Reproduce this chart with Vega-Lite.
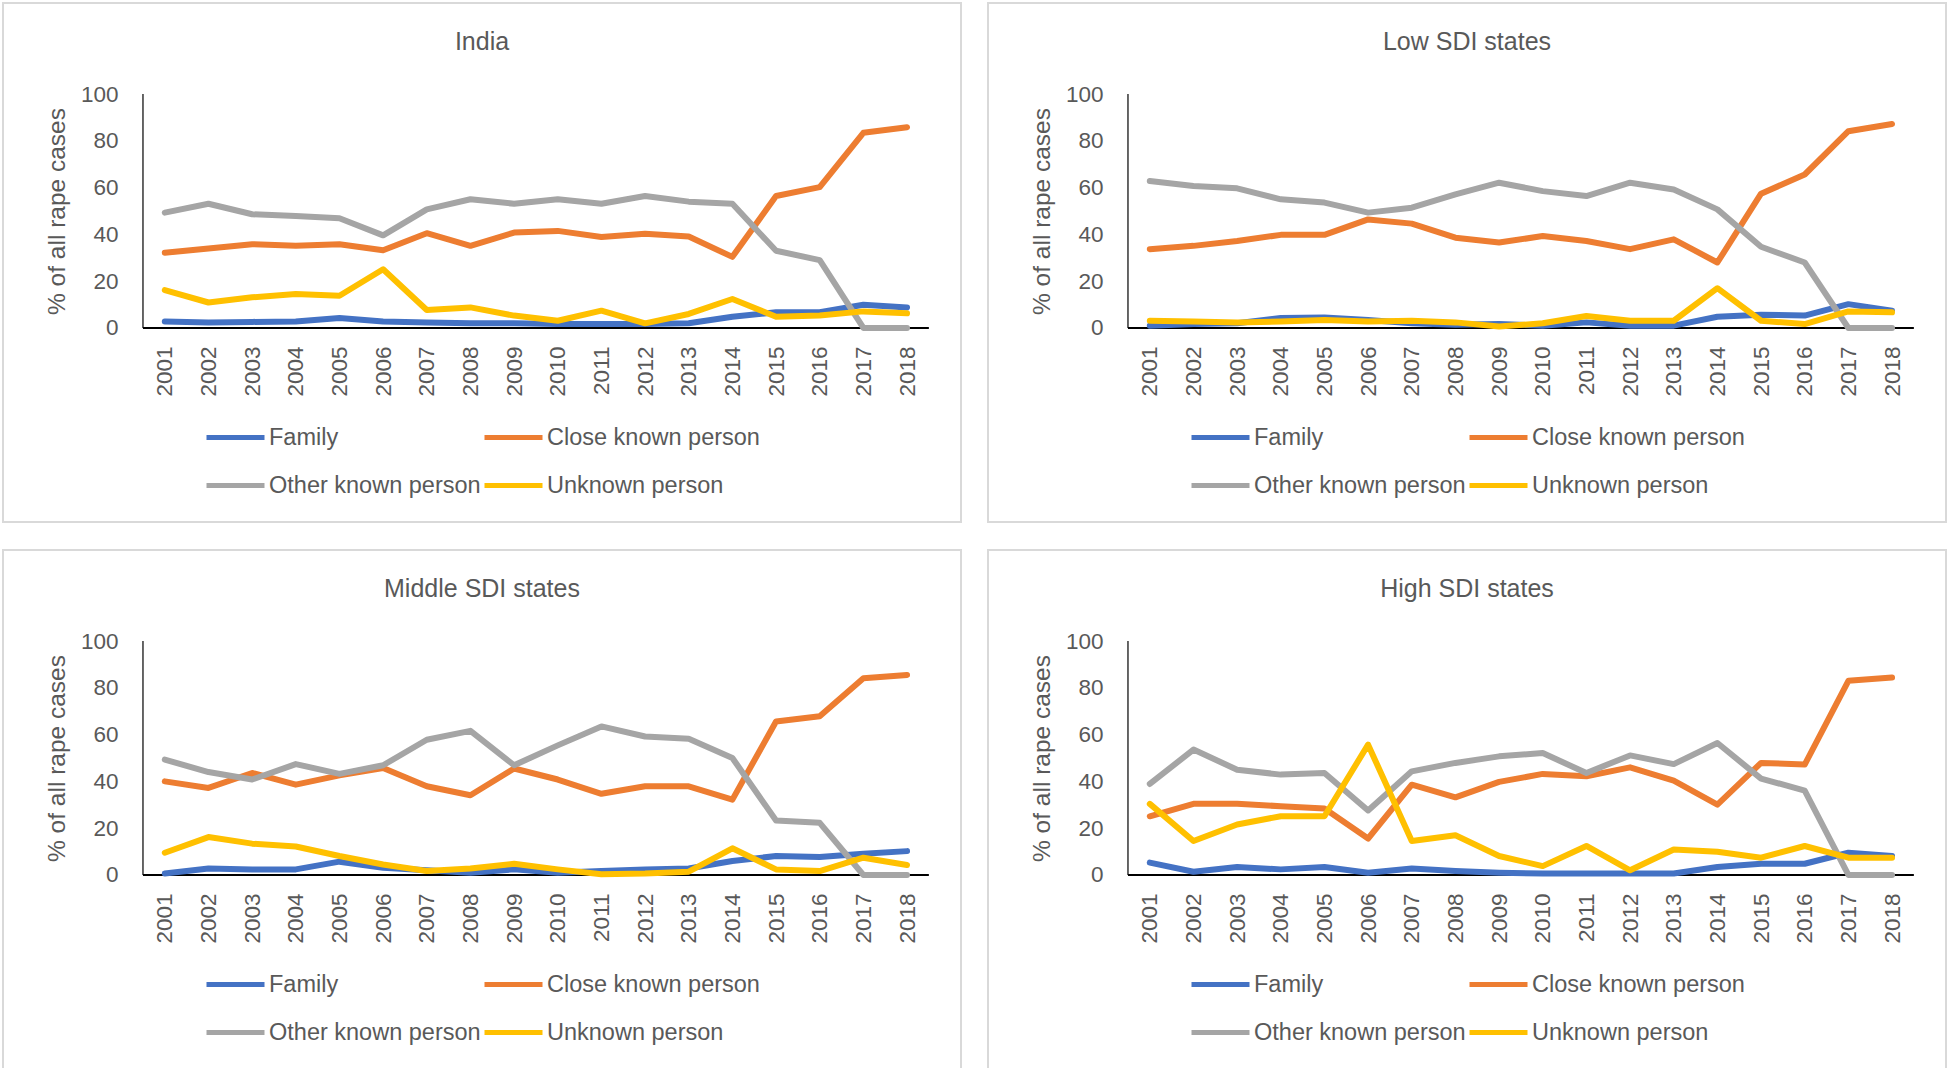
{
  "$schema": "https://vega.github.io/schema/vega-lite/v6.json",
  "background": "white",
  "padding": {"left": 2, "top": 2, "right": 0, "bottom": 0},
  "datasets": {
    "india": [
      {"year": 2001, "Family": 2.8, "Close known person": 32.2, "Other known person": 49.3, "Unknown person": 16.2},
      {"year": 2002, "Family": 2.4, "Close known person": 34.0, "Other known person": 53.1, "Unknown person": 10.9},
      {"year": 2003, "Family": 2.6, "Close known person": 35.8, "Other known person": 48.6, "Unknown person": 13.1},
      {"year": 2004, "Family": 2.8, "Close known person": 35.1, "Other known person": 47.9, "Unknown person": 14.5},
      {"year": 2005, "Family": 4.3, "Close known person": 35.8, "Other known person": 46.9, "Unknown person": 13.8},
      {"year": 2006, "Family": 2.8, "Close known person": 33.2, "Other known person": 39.6, "Unknown person": 25.1},
      {"year": 2007, "Family": 2.4, "Close known person": 40.5, "Other known person": 50.7, "Unknown person": 7.7},
      {"year": 2008, "Family": 2.0, "Close known person": 35.1, "Other known person": 55.0, "Unknown person": 8.8},
      {"year": 2009, "Family": 2.0, "Close known person": 40.8, "Other known person": 53.1, "Unknown person": 5.3},
      {"year": 2010, "Family": 1.7, "Close known person": 41.5, "Other known person": 55.0, "Unknown person": 3.1},
      {"year": 2011, "Family": 1.7, "Close known person": 38.9, "Other known person": 53.1, "Unknown person": 7.4},
      {"year": 2012, "Family": 1.7, "Close known person": 40.3, "Other known person": 56.4, "Unknown person": 2.0},
      {"year": 2013, "Family": 2.0, "Close known person": 39.1, "Other known person": 54.0, "Unknown person": 6.0},
      {"year": 2014, "Family": 4.8, "Close known person": 30.4, "Other known person": 53.1, "Unknown person": 12.4},
      {"year": 2015, "Family": 6.7, "Close known person": 56.4, "Other known person": 33.0, "Unknown person": 4.8},
      {"year": 2016, "Family": 6.7, "Close known person": 60.2, "Other known person": 29.0, "Unknown person": 5.3},
      {"year": 2017, "Family": 9.9, "Close known person": 83.4, "Other known person": 0, "Unknown person": 7.1},
      {"year": 2018, "Family": 8.8, "Close known person": 85.8, "Other known person": 0, "Unknown person": 6.3}
    ],
    "low": [
      {"year": 2001, "Family": 1.0, "Close known person": 33.7, "Other known person": 62.8, "Unknown person": 3.1},
      {"year": 2002, "Family": 1.7, "Close known person": 35.1, "Other known person": 60.7, "Unknown person": 2.8},
      {"year": 2003, "Family": 2.0, "Close known person": 37.2, "Other known person": 59.7, "Unknown person": 2.3},
      {"year": 2004, "Family": 4.3, "Close known person": 39.8, "Other known person": 55.0, "Unknown person": 2.8},
      {"year": 2005, "Family": 4.5, "Close known person": 39.8, "Other known person": 53.6, "Unknown person": 3.4},
      {"year": 2006, "Family": 3.4, "Close known person": 46.4, "Other known person": 49.3, "Unknown person": 2.8},
      {"year": 2007, "Family": 2.0, "Close known person": 44.6, "Other known person": 51.4, "Unknown person": 3.1},
      {"year": 2008, "Family": 1.4, "Close known person": 38.6, "Other known person": 57.1, "Unknown person": 2.4},
      {"year": 2009, "Family": 1.7, "Close known person": 36.5, "Other known person": 62.1, "Unknown person": 0.6},
      {"year": 2010, "Family": 1.0, "Close known person": 39.3, "Other known person": 58.5, "Unknown person": 2.0},
      {"year": 2011, "Family": 2.4, "Close known person": 37.2, "Other known person": 56.4, "Unknown person": 5.1},
      {"year": 2012, "Family": 1.0, "Close known person": 33.7, "Other known person": 62.1, "Unknown person": 3.1},
      {"year": 2013, "Family": 1.0, "Close known person": 37.9, "Other known person": 59.2, "Unknown person": 3.1},
      {"year": 2014, "Family": 4.8, "Close known person": 28.0, "Other known person": 50.7, "Unknown person": 17.0},
      {"year": 2015, "Family": 5.7, "Close known person": 57.4, "Other known person": 34.7, "Unknown person": 3.1},
      {"year": 2016, "Family": 5.3, "Close known person": 65.6, "Other known person": 28.0, "Unknown person": 1.7},
      {"year": 2017, "Family": 10.2, "Close known person": 84.1, "Other known person": 0, "Unknown person": 7.1},
      {"year": 2018, "Family": 7.4, "Close known person": 87.2, "Other known person": 0, "Unknown person": 6.7}
    ],
    "middle": [
      {"year": 2001, "Family": 0.6, "Close known person": 40.0, "Other known person": 49.3, "Unknown person": 9.5},
      {"year": 2002, "Family": 2.8, "Close known person": 37.2, "Other known person": 44.0, "Unknown person": 16.2},
      {"year": 2003, "Family": 2.4, "Close known person": 43.6, "Other known person": 40.8, "Unknown person": 13.4},
      {"year": 2004, "Family": 2.4, "Close known person": 38.6, "Other known person": 47.4, "Unknown person": 12.2},
      {"year": 2005, "Family": 5.7, "Close known person": 42.6, "Other known person": 43.2, "Unknown person": 8.1},
      {"year": 2006, "Family": 3.1, "Close known person": 45.7, "Other known person": 46.9, "Unknown person": 4.5},
      {"year": 2007, "Family": 2.0, "Close known person": 37.9, "Other known person": 57.8, "Unknown person": 1.7},
      {"year": 2008, "Family": 1.0, "Close known person": 34.1, "Other known person": 61.6, "Unknown person": 2.8},
      {"year": 2009, "Family": 2.4, "Close known person": 45.5, "Other known person": 46.9, "Unknown person": 4.8},
      {"year": 2010, "Family": 1.0, "Close known person": 40.8, "Other known person": 55.4, "Unknown person": 2.4},
      {"year": 2011, "Family": 1.7, "Close known person": 34.7, "Other known person": 63.5, "Unknown person": 0.3},
      {"year": 2012, "Family": 2.4, "Close known person": 37.9, "Other known person": 59.2, "Unknown person": 0.6},
      {"year": 2013, "Family": 2.8, "Close known person": 37.9, "Other known person": 58.2, "Unknown person": 1.4},
      {"year": 2014, "Family": 6.0, "Close known person": 32.2, "Other known person": 50.0, "Unknown person": 11.4},
      {"year": 2015, "Family": 8.1, "Close known person": 65.6, "Other known person": 23.3, "Unknown person": 2.4},
      {"year": 2016, "Family": 7.7, "Close known person": 67.8, "Other known person": 22.3, "Unknown person": 1.7},
      {"year": 2017, "Family": 9.1, "Close known person": 84.1, "Other known person": 0, "Unknown person": 7.4},
      {"year": 2018, "Family": 10.2, "Close known person": 85.5, "Other known person": 0, "Unknown person": 4.3}
    ],
    "high": [
      {"year": 2001, "Family": 5.3, "Close known person": 25.1, "Other known person": 38.9, "Unknown person": 30.4},
      {"year": 2002, "Family": 1.4, "Close known person": 30.4, "Other known person": 53.6, "Unknown person": 14.5},
      {"year": 2003, "Family": 3.4, "Close known person": 30.4, "Other known person": 45.0, "Unknown person": 21.6},
      {"year": 2004, "Family": 2.4, "Close known person": 29.4, "Other known person": 42.9, "Unknown person": 25.1},
      {"year": 2005, "Family": 3.4, "Close known person": 28.4, "Other known person": 43.6, "Unknown person": 25.1},
      {"year": 2006, "Family": 1.0, "Close known person": 15.6, "Other known person": 27.6, "Unknown person": 55.7},
      {"year": 2007, "Family": 2.8, "Close known person": 38.6, "Other known person": 44.3, "Unknown person": 14.5},
      {"year": 2008, "Family": 1.7, "Close known person": 33.2, "Other known person": 47.9, "Unknown person": 17.0},
      {"year": 2009, "Family": 1.0, "Close known person": 39.8, "Other known person": 50.7, "Unknown person": 8.1},
      {"year": 2010, "Family": 0.6, "Close known person": 43.2, "Other known person": 52.1, "Unknown person": 3.8},
      {"year": 2011, "Family": 0.6, "Close known person": 42.2, "Other known person": 43.6, "Unknown person": 12.4},
      {"year": 2012, "Family": 0.6, "Close known person": 46.0, "Other known person": 51.1, "Unknown person": 2.0},
      {"year": 2013, "Family": 0.6, "Close known person": 40.3, "Other known person": 47.4, "Unknown person": 10.9},
      {"year": 2014, "Family": 3.4, "Close known person": 30.1, "Other known person": 56.4, "Unknown person": 9.9},
      {"year": 2015, "Family": 4.8, "Close known person": 47.9, "Other known person": 41.2, "Unknown person": 7.4},
      {"year": 2016, "Family": 4.8, "Close known person": 47.2, "Other known person": 36.1, "Unknown person": 12.4},
      {"year": 2017, "Family": 9.5, "Close known person": 83.0, "Other known person": 0, "Unknown person": 7.4},
      {"year": 2018, "Family": 8.1, "Close known person": 84.4, "Other known person": 0, "Unknown person": 7.4}
    ]
  },
  "spacing": 26,
  "resolve": {"scale": {"color": "independent", "x": "independent", "y": "independent"}, "legend": {"color": "independent"}},
  "vconcat": [
    {
      "spacing": 25,
      "resolve": {"scale": {"color": "independent", "x": "independent", "y": "independent"}, "legend": {"color": "independent"}},
      "hconcat": [
        {
          "width": 958, "height": 519,
          "title": {"text": "India"},
          "layer": [
            {"data": {"values": [{}]}, "mark": {"type": "rule", "color": "#000000", "strokeWidth": 2}, "encoding": {"x": {"datum": 2000.5, "type": "quantitative"}, "x2": {"datum": 2018.5}, "y": {"datum": 0, "type": "quantitative"}}},
            {"data": {"values": [{}]}, "mark": {"type": "rule", "color": "#000000", "strokeWidth": 1.2}, "encoding": {"x": {"datum": 2000.5, "type": "quantitative"}, "y": {"datum": 0, "type": "quantitative"}, "y2": {"datum": 100}}},
            {
              "data": {"name": "india"},
              "transform": [{"fold": ["Family", "Close known person", "Other known person", "Unknown person"], "as": ["relation", "pct"]}],
              "mark": {"type": "line", "strokeWidth": 6, "strokeCap": "round", "strokeJoin": "round"},
              "encoding": {
                "x": {"field": "year", "type": "quantitative", "scale": {"domain": [1997.294, 2019.236], "nice": false, "zero": false}, "axis": {"values": [2001, 2002, 2003, 2004, 2005, 2006, 2007, 2008, 2009, 2010, 2011, 2012, 2013, 2014, 2015, 2016, 2017, 2018], "format": "d", "title": null}},
                "y": {"field": "pct", "type": "quantitative", "scale": {"domain": [-82.91, 138.89], "nice": false, "zero": false}, "axis": {"values": [0, 20, 40, 60, 80, 100], "title": "% of all rape cases"}},
                "color": {"field": "relation", "type": "nominal", "scale": {"domain": ["Family", "Other known person", "Close known person", "Unknown person"], "range": ["#4472C4", "#A5A5A5", "#ED7D31", "#FFC000"]}, "legend": {"orient": "none", "legendX": 201, "legendY": 403, "columns": 2, "title": null, "symbolType": "stroke", "symbolSize": 3364, "symbolStrokeWidth": 5, "labelOffset": 2, "columnPadding": -7, "rowPadding": 5, "padding": 0}}
              }
            }
          ]
        },
        {
          "width": 958, "height": 519,
          "title": {"text": "Low SDI states"},
          "layer": [
            {"data": {"values": [{}]}, "mark": {"type": "rule", "color": "#000000", "strokeWidth": 2}, "encoding": {"x": {"datum": 2000.5, "type": "quantitative"}, "x2": {"datum": 2018.5}, "y": {"datum": 0, "type": "quantitative"}}},
            {"data": {"values": [{}]}, "mark": {"type": "rule", "color": "#000000", "strokeWidth": 1.2}, "encoding": {"x": {"datum": 2000.5, "type": "quantitative"}, "y": {"datum": 0, "type": "quantitative"}, "y2": {"datum": 100}}},
            {
              "data": {"name": "low"},
              "transform": [{"fold": ["Family", "Close known person", "Other known person", "Unknown person"], "as": ["relation", "pct"]}],
              "mark": {"type": "line", "strokeWidth": 6, "strokeCap": "round", "strokeJoin": "round"},
              "encoding": {
                "x": {"field": "year", "type": "quantitative", "scale": {"domain": [1997.294, 2019.236], "nice": false, "zero": false}, "axis": {"values": [2001, 2002, 2003, 2004, 2005, 2006, 2007, 2008, 2009, 2010, 2011, 2012, 2013, 2014, 2015, 2016, 2017, 2018], "format": "d", "title": null}},
                "y": {"field": "pct", "type": "quantitative", "scale": {"domain": [-82.91, 138.89], "nice": false, "zero": false}, "axis": {"values": [0, 20, 40, 60, 80, 100], "title": "% of all rape cases"}},
                "color": {"field": "relation", "type": "nominal", "scale": {"domain": ["Family", "Other known person", "Close known person", "Unknown person"], "range": ["#4472C4", "#A5A5A5", "#ED7D31", "#FFC000"]}, "legend": {"orient": "none", "legendX": 201, "legendY": 403, "columns": 2, "title": null, "symbolType": "stroke", "symbolSize": 3364, "symbolStrokeWidth": 5, "labelOffset": 2, "columnPadding": -7, "rowPadding": 5, "padding": 0}}
              }
            }
          ]
        }
      ]
    },
    {
      "spacing": 25,
      "resolve": {"scale": {"color": "independent", "x": "independent", "y": "independent"}, "legend": {"color": "independent"}},
      "hconcat": [
        {
          "width": 958, "height": 519,
          "title": {"text": "Middle SDI states"},
          "layer": [
            {"data": {"values": [{}]}, "mark": {"type": "rule", "color": "#000000", "strokeWidth": 2}, "encoding": {"x": {"datum": 2000.5, "type": "quantitative"}, "x2": {"datum": 2018.5}, "y": {"datum": 0, "type": "quantitative"}}},
            {"data": {"values": [{}]}, "mark": {"type": "rule", "color": "#000000", "strokeWidth": 1.2}, "encoding": {"x": {"datum": 2000.5, "type": "quantitative"}, "y": {"datum": 0, "type": "quantitative"}, "y2": {"datum": 100}}},
            {
              "data": {"name": "middle"},
              "transform": [{"fold": ["Family", "Close known person", "Other known person", "Unknown person"], "as": ["relation", "pct"]}],
              "mark": {"type": "line", "strokeWidth": 6, "strokeCap": "round", "strokeJoin": "round"},
              "encoding": {
                "x": {"field": "year", "type": "quantitative", "scale": {"domain": [1997.294, 2019.236], "nice": false, "zero": false}, "axis": {"values": [2001, 2002, 2003, 2004, 2005, 2006, 2007, 2008, 2009, 2010, 2011, 2012, 2013, 2014, 2015, 2016, 2017, 2018], "format": "d", "title": null}},
                "y": {"field": "pct", "type": "quantitative", "scale": {"domain": [-82.91, 138.89], "nice": false, "zero": false}, "axis": {"values": [0, 20, 40, 60, 80, 100], "title": "% of all rape cases"}},
                "color": {"field": "relation", "type": "nominal", "scale": {"domain": ["Family", "Other known person", "Close known person", "Unknown person"], "range": ["#4472C4", "#A5A5A5", "#ED7D31", "#FFC000"]}, "legend": {"orient": "none", "legendX": 201, "legendY": 403, "columns": 2, "title": null, "symbolType": "stroke", "symbolSize": 3364, "symbolStrokeWidth": 5, "labelOffset": 2, "columnPadding": -7, "rowPadding": 5, "padding": 0}}
              }
            }
          ]
        },
        {
          "width": 958, "height": 519,
          "title": {"text": "High SDI states"},
          "layer": [
            {"data": {"values": [{}]}, "mark": {"type": "rule", "color": "#000000", "strokeWidth": 2}, "encoding": {"x": {"datum": 2000.5, "type": "quantitative"}, "x2": {"datum": 2018.5}, "y": {"datum": 0, "type": "quantitative"}}},
            {"data": {"values": [{}]}, "mark": {"type": "rule", "color": "#000000", "strokeWidth": 1.2}, "encoding": {"x": {"datum": 2000.5, "type": "quantitative"}, "y": {"datum": 0, "type": "quantitative"}, "y2": {"datum": 100}}},
            {
              "data": {"name": "high"},
              "transform": [{"fold": ["Family", "Close known person", "Other known person", "Unknown person"], "as": ["relation", "pct"]}],
              "mark": {"type": "line", "strokeWidth": 6, "strokeCap": "round", "strokeJoin": "round"},
              "encoding": {
                "x": {"field": "year", "type": "quantitative", "scale": {"domain": [1997.294, 2019.236], "nice": false, "zero": false}, "axis": {"values": [2001, 2002, 2003, 2004, 2005, 2006, 2007, 2008, 2009, 2010, 2011, 2012, 2013, 2014, 2015, 2016, 2017, 2018], "format": "d", "title": null}},
                "y": {"field": "pct", "type": "quantitative", "scale": {"domain": [-82.91, 138.89], "nice": false, "zero": false}, "axis": {"values": [0, 20, 40, 60, 80, 100], "title": "% of all rape cases"}},
                "color": {"field": "relation", "type": "nominal", "scale": {"domain": ["Family", "Other known person", "Close known person", "Unknown person"], "range": ["#4472C4", "#A5A5A5", "#ED7D31", "#FFC000"]}, "legend": {"orient": "none", "legendX": 201, "legendY": 403, "columns": 2, "title": null, "symbolType": "stroke", "symbolSize": 3364, "symbolStrokeWidth": 5, "labelOffset": 2, "columnPadding": -7, "rowPadding": 5, "padding": 0}}
              }
            }
          ]
        }
      ]
    }
  ],
  "config": {
    "font": "Liberation Sans",
    "view": {"stroke": "#d9d9d9", "strokeWidth": 2},
    "title": {"anchor": "middle", "frame": "group", "offset": -51.5, "baseline": "alphabetic", "fontSize": 25, "fontWeight": "normal", "color": "#595959", "font": "Liberation Sans"},
    "axis": {"domain": false, "ticks": false, "tickSize": 0, "grid": false, "labelFontSize": 22.5, "labelColor": "#595959", "labelFont": "Liberation Sans", "labelOverlap": false, "labelFlush": false, "labelBound": false},
    "axisX": {"offset": -194, "labelAngle": -90, "labelAlign": "right", "labelBaseline": "middle", "labelPadding": 18},
    "axisY": {"offset": -140, "labelPadding": 25, "titleFontSize": 24.5, "titleFontWeight": "normal", "titleColor": "#595959", "titleFont": "Liberation Sans", "titleX": -86, "titleY": 208, "titleAngle": -90, "titleAlign": "center", "titleBaseline": "middle"},
    "legend": {"labelFontSize": 23.5, "labelColor": "#595959", "labelFont": "Liberation Sans", "labelLimit": 400}
  }
}
